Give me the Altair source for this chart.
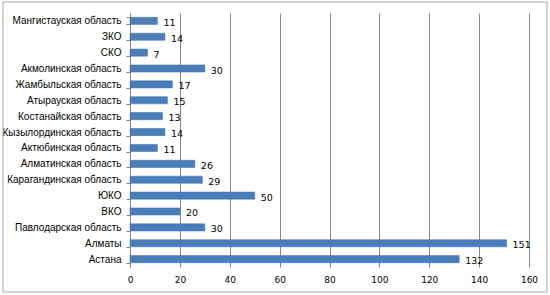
import altair as alt
import pandas as pd

categories = ["Мангистауская область", "ЗКО", "СКО", "Акмолинская область",
              "Жамбыльская область", "Атырауская область", "Костанайская область",
              "Кызылординская область", "Актюбинская область", "Алматинская область",
              "Карагандинская область", "ЮКО", "ВКО", "Павлодарская область",
              "Алматы", "Астана"]
values = [11, 14, 7, 30, 17, 15, 13, 14, 11, 26, 29, 50, 20, 30, 151, 132]
x_ticks = [0, 20, 40, 60, 80, 100, 120, 140, 160]

df = pd.DataFrame({"region": categories, "value": values})

FONT = "DejaVu Sans"
LFONT = "Liberation Sans"

y_enc = alt.Y("region:N", sort=categories, title=None,
              scale=alt.Scale(paddingInner=0.55, paddingOuter=0.27),
              axis=alt.Axis(labelFont=LFONT, labelFontSize=10, labelColor="#000000",
                            labelPadding=5, tickBand="extent", tickSize=4,
                            tickColor="#868686", domainColor="#868686", grid=False,
                            labelLimit=200))
x_enc = alt.X("value:Q", title=None,
              scale=alt.Scale(domain=[0, 160], nice=False),
              axis=alt.Axis(values=x_ticks, labelFont=FONT, labelFontSize=9,
                            labelColor="#000000", domain=False, ticks=False,
                            labelPadding=8, grid=True, gridColor="#868686",
                            gridWidth=1, labelFlush=False))

bars = alt.Chart(df).mark_bar(color="#4A7EBB", stroke="#3F6FA8", strokeWidth=0.5).encode(
    x=x_enc, y=y_enc)

labels = alt.Chart(df).mark_text(align="left", baseline="middle", dx=6, dy=2,
                                 font=FONT, fontSize=9.5, color="#000000").encode(
    x="value:Q", y=alt.Y("region:N", sort=categories), text="value:Q")

border = alt.Chart(alt.Data(values=[{}])).mark_rect(
    fill=None, stroke="#A6A6A6", strokeWidth=1).encode(
    x=alt.value(-127), x2=alt.value(417), y=alt.value(-11), y2=alt.value(279))

chart = alt.layer(bars, labels, border).properties(
    width=399, height=254,
    padding={"left": 130, "top": 13, "right": 21, "bottom": 28},
    autosize=alt.AutoSizeParams(type="none"),
    background="#FFFFFF",
).configure_view(stroke=None)

chart.save("out.html", embed_options={"renderer": "svg", "actions": False})
